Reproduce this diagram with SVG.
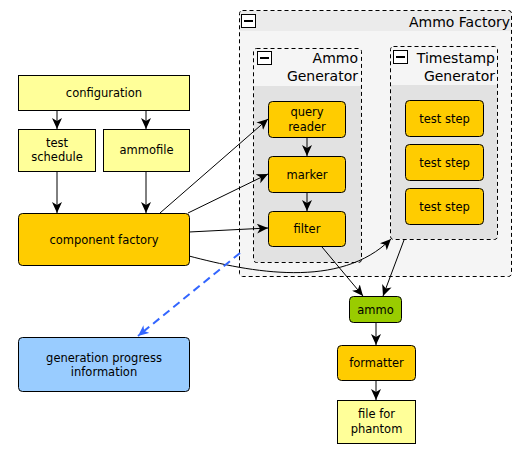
<svg xmlns="http://www.w3.org/2000/svg" width="528" height="452" viewBox="0 0 528 452">
<style>
text{font-family:"DejaVu Sans","Lucida Grande",sans-serif;font-size:11.5px;fill:#000;text-anchor:middle}
.t{font-size:14px;text-anchor:end}
.n{stroke:#000;stroke-width:1}
.y{fill:#ffff99}
.o{fill:#ffcc00}
.g{fill:#99cc00}
.b{fill:#99ccff}
.grp{fill:none;stroke:#000;stroke-dasharray:4,3}
.e{fill:none;stroke:#000;stroke-width:1}
.ic{fill:#fff;stroke:#000}
</style>
<defs>
<marker id="a" markerUnits="userSpaceOnUse" markerWidth="14" markerHeight="12" refX="11" refY="5" orient="auto">
<path d="M0,0 L11,5 L0,10 L3,5 z" fill="#000"/>
</marker>
<marker id="ab" markerUnits="userSpaceOnUse" markerWidth="14" markerHeight="12" refX="11" refY="5" orient="auto">
<path d="M0,0 L11,5 L0,10 L3,5 z" fill="#3366ff"/>
</marker>
</defs>
<rect width="528" height="452" fill="#fff"/>
<g id="ammo-factory">
<rect x="239.5" y="10.5" width="272" height="266" rx="3" fill="#f5f5f5"/>
<rect x="240" y="11" width="271" height="20" fill="#ebebeb"/>
<rect x="239.5" y="10.5" width="272" height="266" rx="3" class="grp"/>
<rect x="241.5" y="14.5" width="14" height="13" class="ic"/>
<line x1="244" y1="21" x2="253" y2="21" stroke="#000" stroke-width="2"/>
<text x="510" y="27" class="t">Ammo Factory</text>
</g>
<g id="ammo-generator">
<rect x="253.5" y="48.5" width="108" height="214" rx="3" fill="#f5f5f5"/>
<rect x="254" y="86" width="107" height="176" fill="#e2e2e2"/>
<rect x="253.5" y="48.5" width="108" height="214" rx="3" class="grp"/>
<rect x="257.5" y="51.5" width="14" height="13" class="ic"/>
<line x1="260" y1="58" x2="269" y2="58" stroke="#000" stroke-width="2"/>
<text x="358" y="63" class="t">Ammo</text>
<text x="358" y="81" class="t">Generator</text>
</g>
<g id="timestamp-generator">
<rect x="390.5" y="46.5" width="107" height="193" rx="3" fill="#f5f5f5"/>
<rect x="391" y="85" width="106" height="154" fill="#e2e2e2"/>
<rect x="390.5" y="46.5" width="107" height="193" rx="3" class="grp"/>
<rect x="393.5" y="50.5" width="14" height="13" class="ic"/>
<line x1="396" y1="57" x2="405" y2="57" stroke="#000" stroke-width="2"/>
<text x="495" y="63" class="t">Timestamp</text>
<text x="495" y="81" class="t">Generator</text>
</g>
<g id="configuration"><rect x="18.5" y="75.5" width="171" height="35" class="n y"/><text x="104" y="97">configuration</text></g>
<g id="test-schedule"><rect x="18.5" y="129.5" width="77" height="42" class="n y"/><text x="57" y="147">test</text><text x="57" y="161">schedule</text></g>
<g id="ammofile"><rect x="103.5" y="129.5" width="86" height="42" class="n y"/><text x="146.5" y="154">ammofile</text></g>
<g id="component-factory"><rect x="18.5" y="213.5" width="171" height="52" rx="4" class="n o"/><text x="104" y="244">component factory</text></g>
<g id="generation-progress"><rect x="18.5" y="337.5" width="171" height="54" rx="4" class="n b"/><text x="104" y="362">generation progress</text><text x="104" y="376">information</text></g>
<g id="query-reader"><rect x="268.5" y="101.5" width="77" height="36" rx="4" class="n o"/><text x="307" y="116">query</text><text x="307" y="131">reader</text></g>
<g id="marker"><rect x="268.5" y="156.5" width="77" height="36" rx="4" class="n o"/><text x="307" y="179">marker</text></g>
<g id="filter"><rect x="268.5" y="211.5" width="77" height="35" rx="4" class="n o"/><text x="307" y="233">filter</text></g>
<g id="test-step-1"><rect x="405.5" y="100.5" width="78" height="36" rx="4" class="n o"/><text x="444.5" y="123">test step</text></g>
<g id="test-step-2"><rect x="405.5" y="144.5" width="78" height="36" rx="4" class="n o"/><text x="444.5" y="167">test step</text></g>
<g id="test-step-3"><rect x="405.5" y="188.5" width="78" height="36" rx="4" class="n o"/><text x="444.5" y="211">test step</text></g>
<g id="ammo"><rect x="349.5" y="296.5" width="52" height="26" rx="4" class="n g"/><text x="375.5" y="314">ammo</text></g>
<g id="formatter"><rect x="337.5" y="345.5" width="78" height="35" rx="4" class="n o"/><text x="376.5" y="367">formatter</text></g>
<g id="file-for-phantom"><rect x="337.5" y="400.5" width="78" height="43" class="n y"/><text x="376.5" y="418">file for</text><text x="376.5" y="433">phantom</text></g>
<g id="connectors">
<line x1="57" y1="111" x2="57" y2="129" class="e" marker-end="url(#a)"/>
<line x1="146" y1="111" x2="146" y2="129" class="e" marker-end="url(#a)"/>
<line x1="57" y1="172" x2="57" y2="213" class="e" marker-end="url(#a)"/>
<line x1="146" y1="172" x2="146" y2="213" class="e" marker-end="url(#a)"/>
<line x1="160" y1="213" x2="268" y2="119" class="e" marker-end="url(#a)"/>
<line x1="188" y1="213" x2="268" y2="174" class="e" marker-end="url(#a)"/>
<line x1="189" y1="232" x2="268" y2="228" class="e" marker-end="url(#a)"/>
<path d="M189,256 C250,272 340,290 391,239" class="e" marker-end="url(#a)"/>
<line x1="307" y1="138" x2="307" y2="156" class="e" marker-end="url(#a)"/>
<line x1="307" y1="193" x2="307" y2="211" class="e" marker-end="url(#a)"/>
<line x1="322" y1="247" x2="363" y2="296" class="e" marker-end="url(#a)"/>
<line x1="404" y1="240" x2="383" y2="296" class="e" marker-end="url(#a)"/>
<line x1="376" y1="323" x2="376" y2="345" class="e" marker-end="url(#a)"/>
<line x1="376" y1="381" x2="376" y2="400" class="e" marker-end="url(#a)"/>
<line x1="240" y1="253" x2="138" y2="336" fill="none" stroke="#3366ff" stroke-width="2" stroke-dasharray="8,5" marker-end="url(#ab)"/>
</g>
</svg>
